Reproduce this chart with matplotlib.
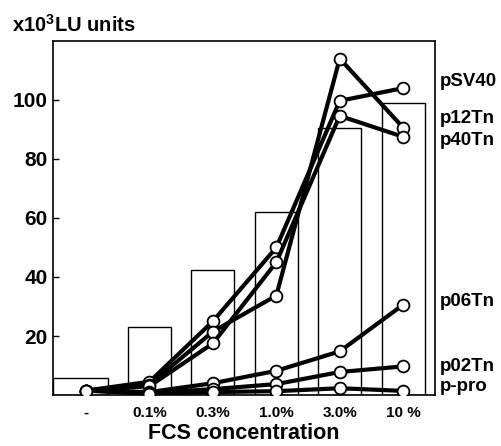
import matplotlib
matplotlib.use("Agg")
import matplotlib.pyplot as plt
import matplotlib.transforms as mtransforms
import numpy as np

plt.rcParams['font.family'] = ['Liberation Sans', 'DejaVu Sans']
plt.rcParams['font.weight'] = 'bold'
plt.rcParams['mathtext.fontset'] = 'custom'
plt.rcParams['mathtext.rm'] = 'Liberation Sans:bold'
plt.rcParams['mathtext.bf'] = 'Liberation Sans:bold'

categories = ["-", "0.1%", "0.3%", "1.0%", "3.0%", "10 %"]
bar_values = [5.7, 23.2, 42.4, 62.0, 90.6, 99.0]

series_names = ["pSV40", "p12Tn", "p40Tn", "p06Tn", "p02Tn", "p-pro"]
pSV40 = [1.5, 4.5, 25.0, 50.0, 99.7, 104.0]
p12Tn = [1.5, 3.5, 21.5, 33.7, 114.0, 90.6]
p40Tn = [1.5, 3.0, 17.5, 45.0, 94.6, 87.5]
p06Tn = [1.5, 1.0, 4.0, 8.2, 14.8, 30.6]
p02Tn = [1.5, 0.6, 2.0, 3.7, 7.8, 9.7]
p_pro = [1.5, 0.5, 1.0, 1.3, 2.3, 1.4]
series = [pSV40, p12Tn, p40Tn, p06Tn, p02Tn, p_pro]

# label heights on the right side (data units)
label_y = [106.4, 93.6, 86.2, 31.6, 9.8, 3.0]

fig = plt.figure(figsize=(5.01, 4.46), dpi=100)
ax = fig.add_axes([0.106, 0.1143, 0.762, 0.794])

x = np.arange(len(categories))
xmin, xmax = -0.52, 5.5
half = 0.34
lefts = x - half
lefts[0] = xmin
widths = (x + half) - lefts
ax.bar(lefts, bar_values, width=widths, align='edge', color='white',
       edgecolor='black', linewidth=1.0, zorder=1)

for vals in series:
    ax.plot(x, vals, color='black', linewidth=3.0, marker='o', markersize=8.5,
            markerfacecolor='white', markeredgecolor='black',
            markeredgewidth=1.3, zorder=3)

ax.set_xlim(xmin, xmax)
ax.set_ylim(0, 120)
ax.set_xticks(x)
ax.set_xticklabels(categories, fontsize=11, fontweight='bold')
ax.set_yticks([20, 40, 60, 80, 100])
ax.set_yticklabels(["20", "40", "60", "80", "100"], fontsize=15,
                   fontweight='bold')
ax.tick_params(axis='y', direction='in', length=4, width=1, pad=4)
ax.tick_params(axis='x', length=0, pad=8)
for sp in ax.spines.values():
    sp.set_linewidth(1.2)

ax.set_xlabel("FCS concentration", fontsize=15.5, fontweight='bold',
              labelpad=2)

trans = mtransforms.blended_transform_factory(ax.transAxes, ax.transData)
for name, ly in zip(series_names, label_y):
    ax.text(1.013, ly, name, transform=trans, fontsize=13.5,
            fontweight='bold', ha='left', va='center')

fig.text(0.024, 0.944, r"x10$^{3}$LU units", fontsize=14.5,
         fontweight='bold', ha='left', va='center')

fig.savefig("out.png", dpi=100)
